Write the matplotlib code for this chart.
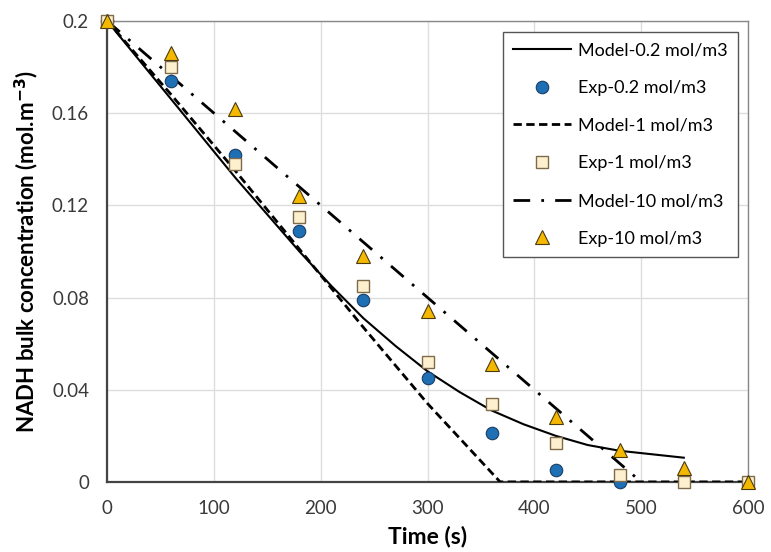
import matplotlib
matplotlib.use("Agg")
import matplotlib.pyplot as plt

plt.rcParams['font.family'] = ['Lato', 'DejaVu Sans']

# experimental sampling times (s)
t_exp = [0, 60, 120, 180, 240, 300, 360, 420, 480, 540, 600]

exp_02 = [0.200, 0.174, 0.142, 0.109, 0.079, 0.045, 0.021, 0.005, 0.0]
exp_1 = [0.200, 0.180, 0.138, 0.115, 0.085, 0.052, 0.034, 0.017, 0.003, 0.0, 0.0]
exp_10 = [0.200, 0.186, 0.162, 0.124, 0.098, 0.074, 0.051, 0.028, 0.014, 0.006, 0.0]

# model curves
t_m02 = [0, 30, 60, 90, 120, 150, 180, 210, 240, 270, 300, 330, 360, 390, 420, 450, 480, 510, 540]
model_02 = [0.200, 0.183, 0.166, 0.149, 0.132, 0.116, 0.100, 0.085, 0.071, 0.059, 0.048,
            0.039, 0.031, 0.025, 0.020, 0.016, 0.0135, 0.012, 0.0105]

t_m1 = [0, 60, 120, 180, 240, 300, 368, 600]
model_1 = [0.200, 0.168, 0.135, 0.101, 0.067, 0.034, 0.0, 0.0]

t_m10 = [0, 100, 200, 300, 400, 500]
model_10 = [0.200, 0.160, 0.120, 0.080, 0.040, 0.0]

yticks = [0, 0.04, 0.08, 0.12, 0.16, 0.2]
ytick_labels = ['0', '0.04', '0.08', '0.12', '0.16', '0.2']

fig = plt.figure(figsize=(7.71, 5.52), dpi=100)
ax = fig.add_axes([0.139, 0.127, 0.831, 0.835])

ax.plot(t_m02, model_02, color='black', lw=1.5, label='Model-0.2 mol/m3', zorder=3)
ax.plot(t_exp[:len(exp_02)], exp_02, 'o', ms=9, mfc='#1f6fb5', mec='#1a3d66', mew=0.8,
        label='Exp-0.2 mol/m3', zorder=5, clip_on=False)
ax.plot(t_m1, model_1, color='black', lw=2, ls=(0, (3, 1.6)), label='Model-1 mol/m3', zorder=3)
ax.plot(t_exp, exp_1, 's', ms=9, mfc='#fdf0cf', mec='#7f6a4a', mew=1.0,
        label='Exp-1 mol/m3', zorder=6, clip_on=False)
ax.plot(t_m10, model_10, color='black', lw=2, ls=(0, (6, 4, 1, 4)), label='Model-10 mol/m3', zorder=3)
ax.plot(t_exp, exp_10, '^', ms=10, mfc='#f5b800', mec='#4a3a10', mew=0.8,
        label='Exp-10 mol/m3', zorder=7, clip_on=False)

ax.set_xlim(0, 600)
ax.set_ylim(0, 0.2)
ax.set_xticks(range(0, 601, 100))
ax.set_yticks(yticks)
ax.set_yticklabels(ytick_labels)
ax.tick_params(length=0, labelsize=13.5, colors='#3a3a3a')
ax.tick_params(axis='x', pad=13)
ax.tick_params(axis='y', pad=13)
ax.grid(True, color='#dddddd', lw=1)
ax.set_axisbelow(True)

for side in ['left', 'bottom']:
    ax.spines[side].set_color('#444444')
    ax.spines[side].set_linewidth(1.6)
for side in ['top', 'right']:
    ax.spines[side].set_color('#888888')
    ax.spines[side].set_linewidth(1.0)

ax.set_xlabel('Time (s)', fontsize=16.5, fontweight='bold', labelpad=6)
ax.set_ylabel('NADH bulk concentration (mol.m$^{\\mathbf{-3}}$)', fontsize=16,
              fontweight='bold', labelpad=8)

leg = ax.legend(loc='upper right', bbox_to_anchor=(0.984, 0.975), fontsize=13,
                handlelength=3.2, labelspacing=1.2, handletextpad=0.4,
                borderpad=0.55, fancybox=False, framealpha=1, borderaxespad=0)
leg.get_frame().set_edgecolor('#555555')
leg.get_frame().set_linewidth(1.0)

fig.savefig('out.png', dpi=100)
